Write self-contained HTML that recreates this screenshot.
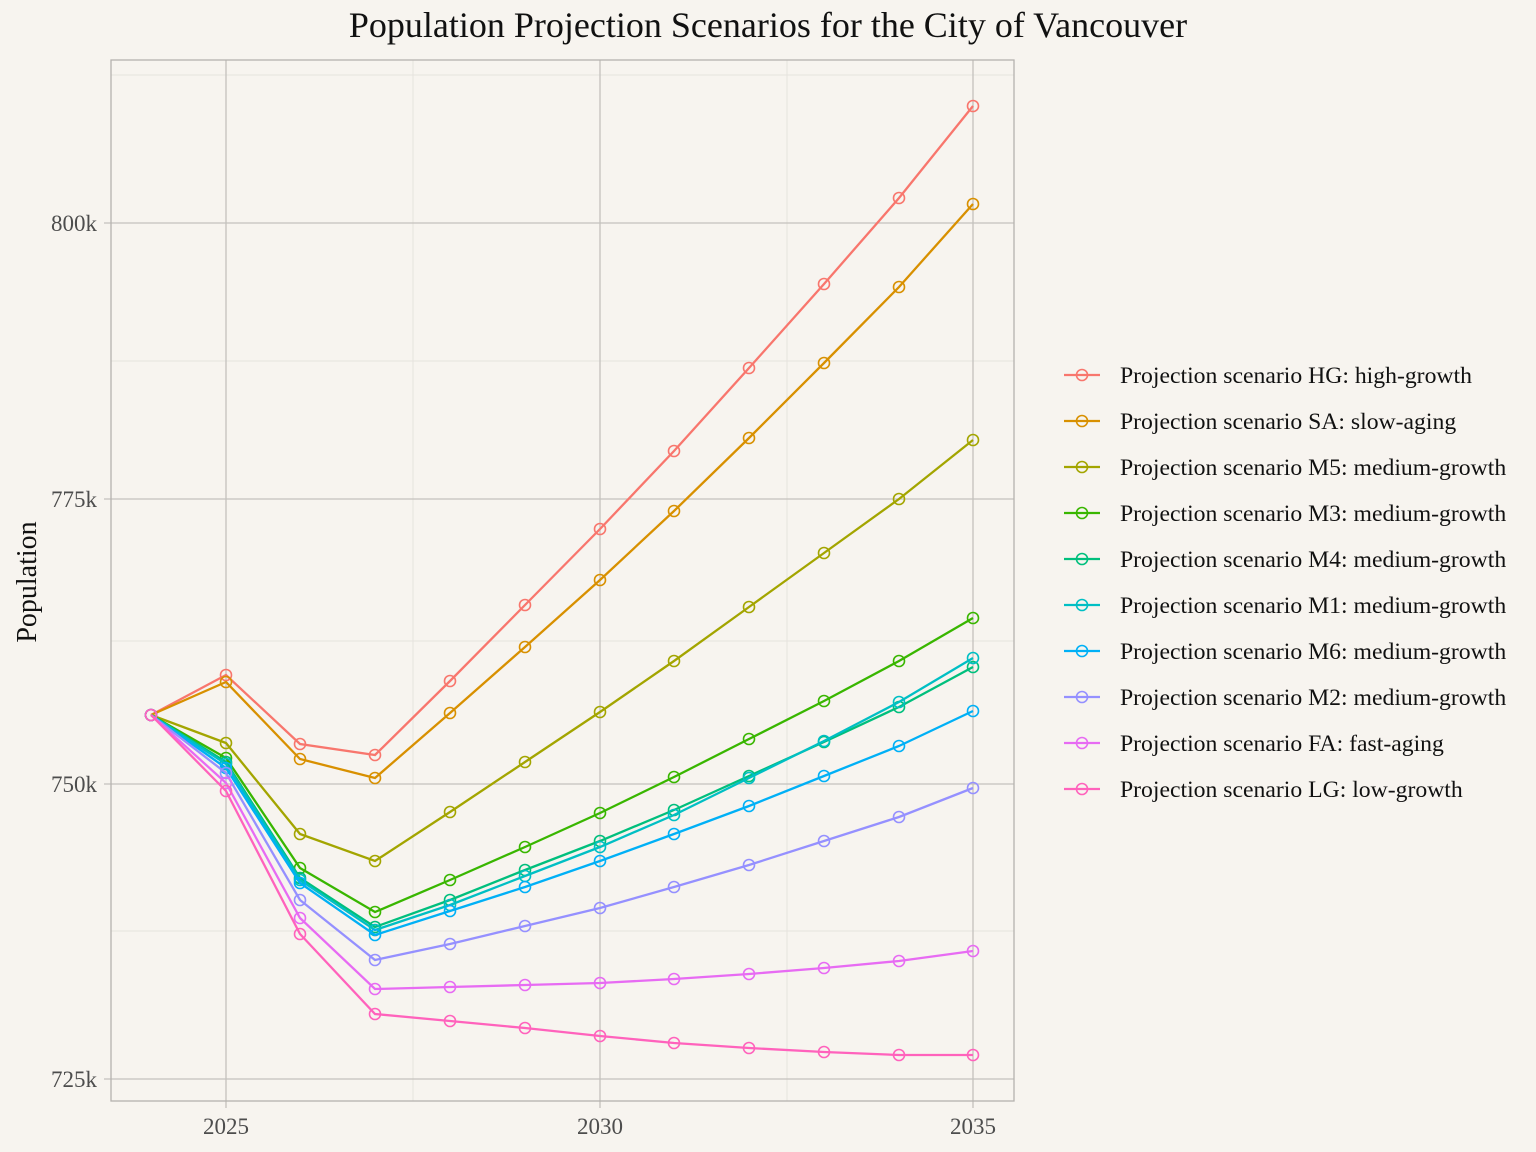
<!DOCTYPE html>
<html><head><style>html,body{margin:0;background:#f7f4ef;overflow:hidden;width:1536px;height:1152px}svg{display:block}</style></head><body>
<svg width="1536" height="1152" xmlns="http://www.w3.org/2000/svg" font-family="Liberation Serif, serif">
<rect width="1536" height="1152" fill="#f7f4ef"/>
<g stroke="#e6e3de" stroke-width="1">
<line x1="111" x2="1014" y1="75" y2="75"/><line x1="111" x2="1014" y1="361" y2="361"/><line x1="111" x2="1014" y1="641" y2="641"/><line x1="111" x2="1014" y1="931" y2="931"/>
<line x1="413" x2="413" y1="60" y2="1101"/><line x1="787" x2="787" y1="60" y2="1101"/>
</g>
<g stroke="#c4c1bd" stroke-width="1.3">
<line x1="104" x2="1014" y1="223" y2="223"/><line x1="104" x2="1014" y1="499" y2="499"/><line x1="104" x2="1014" y1="784" y2="784"/><line x1="104" x2="1014" y1="1079" y2="1079"/>
<line x1="226" x2="226" y1="60" y2="1108"/><line x1="600" x2="600" y1="60" y2="1108"/><line x1="973" x2="973" y1="60" y2="1108"/>
</g>
<rect x="111" y="60" width="903" height="1041" fill="none" stroke="#b5b2ae" stroke-width="1.3"/>
<g font-size="23" fill="#4d4d4d">
<text x="97" y="231" text-anchor="end">800k</text><text x="97" y="507" text-anchor="end">775k</text><text x="97" y="792" text-anchor="end">750k</text><text x="97" y="1087" text-anchor="end">725k</text>
<text x="226" y="1134" text-anchor="middle">2025</text><text x="600" y="1134" text-anchor="middle">2030</text><text x="973" y="1134" text-anchor="middle">2035</text>
</g>
<text x="768" y="37" font-size="36" text-anchor="middle" fill="#111">Population Projection Scenarios for the City of Vancouver</text>
<text transform="translate(36,582) rotate(-90)" font-size="28" text-anchor="middle" fill="#111">Population</text>
<g id="series" fill="none" stroke-width="2.3"></g>
<g id="legend" font-size="23.7" fill="#111"></g>
<script>
const xs=[151,226,300,375,450,525,600,674,749,824,899,973];
const S=[
["HG: high-growth","#F8766D",[715,675,744,755,681,605,529,451,368,284,198,106]],
["SA: slow-aging","#D89000",[715,682,759,778,713,647,580,511,438,363,287,204]],
["M5: medium-growth","#A3A500",[715,743,834,861,812,762,712,661,607,553,499,440]],
["M3: medium-growth","#39B600",[715,758,868,912,880,847,813,777,739,701,661,618]],
["M4: medium-growth","#00BF7D",[715,762,878,927,900,870,841,810,776,742,707,667]],
["M1: medium-growth","#00BFC4",[715,764,880,930,905,876,847,815,778,741,702,658]],
["M6: medium-growth","#00B0F6",[715,768,883,935,911,887,861,834,806,776,746,711]],
["M2: medium-growth","#9590FF",[715,773,900,960,944,926,908,887,865,841,817,788]],
["FA: fast-aging","#E76BF3",[715,783,918,989,987,985,983,979,974,968,961,951]],
["LG: low-growth","#FF62BC",[715,791,934,1014,1021,1028,1036,1043,1048,1052,1055,1055]]];
const ns="http://www.w3.org/2000/svg";
const g=document.getElementById("series"),L=document.getElementById("legend");
function el(t,a,p){const e=document.createElementNS(ns,t);for(const k in a)e.setAttribute(k,a[k]);p.appendChild(e);return e;}
S.forEach((s,i)=>{
 el("polyline",{points:s[2].map((y,j)=>xs[j]+","+y).join(" "),stroke:s[1]},g);
 s[2].forEach((y,j)=>el("circle",{cx:xs[j],cy:y,r:5.5,stroke:s[1],"stroke-width":1.6},g));
 const ly=375+i*46;
 el("line",{x1:1064,x2:1100,y1:ly,y2:ly,stroke:s[1],"stroke-width":2.3},L);
 el("circle",{cx:1082,cy:ly,r:5.5,stroke:s[1],fill:"none","stroke-width":1.6},L);
 const t=el("text",{x:1120,y:ly+8},L);t.textContent="Projection scenario "+s[0];
});
</script>
</svg>
</body></html>
